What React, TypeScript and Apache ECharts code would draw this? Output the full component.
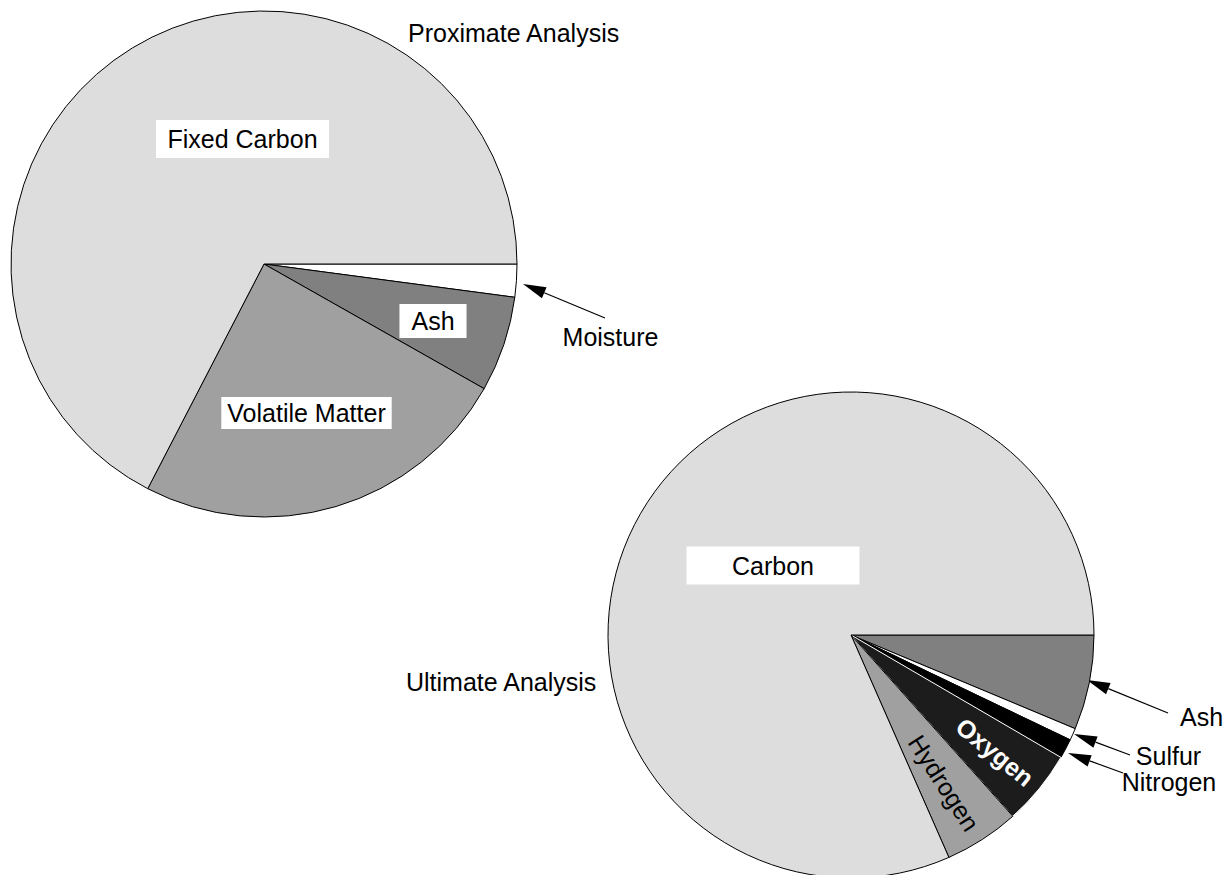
import React, { useEffect, useRef } from "react";
import * as echarts from "echarts";

// ---- data ----
const titles = ["Proximate Analysis", "Ultimate Analysis"];

const proximateNames = ["Moisture", "Ash", "Volatile Matter", "Fixed Carbon"];
const proximateValues = [2.1, 6.1, 24.4, 67.4];
const proximateColors = ["#ffffff", "#808080", "#a0a0a0", "#dddddd"];

const ultimateNames = ["Ash", "Sulfur", "Nitrogen", "Oxygen", "Hydrogen", "Carbon"];
const ultimateValues = [6.3, 0.8, 1.3, 5.0, 5.0, 81.6];
const ultimateColors = ["#808080", "#ffffff", "#000000", "#1c1c1c", "#a0a0a0", "#dddddd"];

// ---- layout (positions / styles) ----
const FONT = "'Liberation Sans', Arial, Helvetica, sans-serif";
const FS = 25;

const proximateAnchors = [
  [610.5, 337],
  [433, 321],
  [306.5, 413],
  [242.5, 139],
];
const proximateBoxPad: (number[] | null)[] = [null, [4, 12], [3, 6], [6, 11.5]];

const ultimateAnchors = [
  [1201.5, 717],
  [1168.5, 755.5],
  [1169, 782],
  [995, 752],
  [944, 783],
  [773, 565.5],
];
const ultimateBoxPad: (number[] | null)[] = [null, null, null, null, null, [6, 45.5]];

// arrows: tailX, tailY, tipX, tipY
const arrows = [
  [605, 318, 523, 284],
  [1168, 713, 1087, 680],
  [1130, 755, 1074, 734],
  [1123, 773, 1068, 753],
];

function arrowGraphics() {
  const els: any[] = [];
  const L = 23;
  const W = 6;
  arrows.forEach(([x1, y1, x2, y2]) => {
    const dx = x2 - x1;
    const dy = y2 - y1;
    const len = Math.sqrt(dx * dx + dy * dy);
    const ux = dx / len;
    const uy = dy / len;
    const bx = x2 - ux * L;
    const by = y2 - uy * L;
    const px = -uy;
    const py = ux;
    els.push({
      type: "line",
      shape: { x1, y1, x2: bx, y2: by },
      style: { stroke: "#000", lineWidth: 1.2 },
      silent: true,
    });
    els.push({
      type: "polygon",
      shape: {
        points: [
          [x2, y2],
          [bx + px * W, by + py * W],
          [bx - px * W, by - py * W],
        ],
      },
      style: { fill: "#000" },
      silent: true,
    });
  });
  return els;
}

function buildData(
  names: string[],
  values: number[],
  colors: string[],
  pads: (number[] | null)[],
  extra: Record<string, any>
) {
  return names.map((name, i) => {
    const pad = pads[i];
    const label: any = pad
      ? { backgroundColor: "#ffffff", padding: pad }
      : {};
    if (extra[name]) Object.assign(label, extra[name].label || {});
    const itemStyle: any = { color: colors[i] };
    if (extra[name] && extra[name].itemStyle) Object.assign(itemStyle, extra[name].itemStyle);
    return { name, value: values[i], itemStyle, label };
  });
}

export default function App() {
  const ref = useRef<HTMLDivElement>(null);

  useEffect(() => {
    if (!ref.current) return;
    const chart = echarts.init(ref.current, undefined, { renderer: "svg" });

    const baseSeries = {
      type: "pie",
      startAngle: 0,
      clockwise: true,
      avoidLabelOverlap: false,
      silent: true,
      emphasis: { disabled: true },
      itemStyle: { borderColor: "#000", borderWidth: 1 },
      labelLine: { show: false },
      label: {
        show: true,
        position: "inside",
        formatter: "{b}",
        color: "#000",
        fontFamily: FONT,
        fontSize: FS,
        lineHeight: 26,
        fontWeight: "normal",
      },
    };

    const option: any = {
      animation: false,
      backgroundColor: "#ffffff",
      title: [
        {
          text: titles[0],
          left: 408,
          top: 20,
          padding: 0,
          textStyle: { fontFamily: FONT, fontSize: FS, fontWeight: "normal", color: "#000" },
        },
        {
          text: titles[1],
          left: 406,
          top: 669,
          padding: 0,
          textStyle: { fontFamily: FONT, fontSize: FS, fontWeight: "normal", color: "#000" },
        },
      ],
      series: [
        {
          ...baseSeries,
          center: [264, 264],
          radius: 253,
          data: buildData(proximateNames, proximateValues, proximateColors, proximateBoxPad, {}),
          labelLayout: (params: any) => {
            const [x, y] = proximateAnchors[params.dataIndex];
            return { x, y, align: "center", verticalAlign: "middle" };
          },
        },
        {
          ...baseSeries,
          center: [851, 635],
          radius: 243,
          data: buildData(ultimateNames, ultimateValues, ultimateColors, ultimateBoxPad, {
            Sulfur: { label: { lineHeight: 22 } },
            Nitrogen: { label: { lineHeight: 22 } },
            Oxygen: {
              label: { color: "#ffffff", fontWeight: "bold", rotate: "radial" },
              itemStyle: { borderColor: "#ffffff" },
            },
            Hydrogen: { label: { rotate: "radial" } },
          }),
          labelLayout: (params: any) => {
            const [x, y] = ultimateAnchors[params.dataIndex];
            return { x, y, align: "center", verticalAlign: "middle" };
          },
        },
      ],
      graphic: arrowGraphics(),
    };

    chart.setOption(option);
    return () => chart.dispose();
  }, []);

  return (
    <div
      ref={ref}
      style={{ position: "fixed", left: 0, top: 0, width: 1224, height: 875, background: "#fff" }}
    />
  );
}
